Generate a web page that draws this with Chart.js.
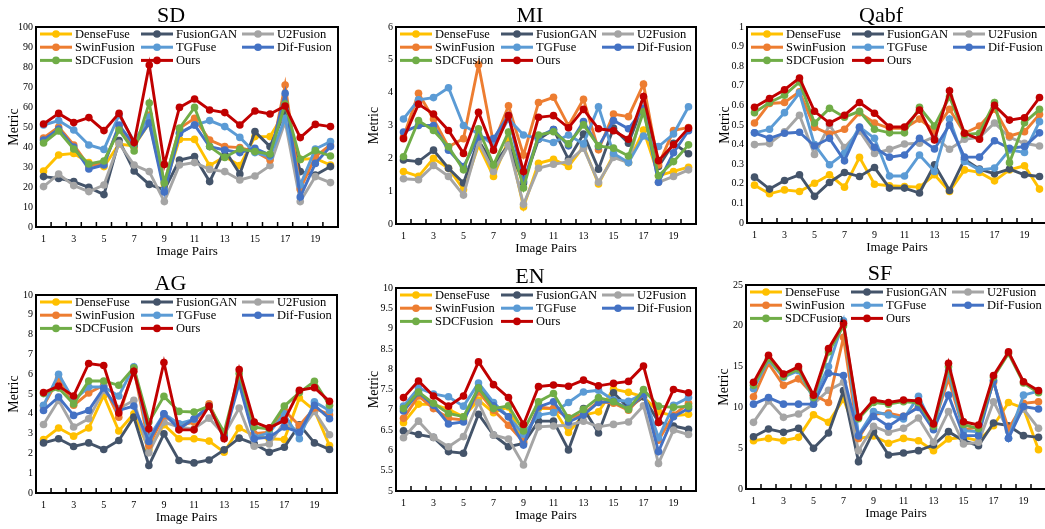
<!DOCTYPE html>
<html>
<head>
<meta charset="utf-8">
<script src="https://cdn.jsdelivr.net/npm/chart.js@4.4.0/dist/chart.umd.min.js"></script>
<style>
  body { margin: 0; background: #fff; width: 1045px; height: 529px; overflow: hidden; position: relative; }
  .panel { position: absolute; }
</style>
</head>
<body>
<div class="panel" style="left:0px;top:0px"><canvas id="cSD" width="342" height="262"></canvas></div>
<div class="panel" style="left:360px;top:0px"><canvas id="cMI" width="340" height="259"></canvas></div>
<div class="panel" style="left:711px;top:0px"><canvas id="cQabf" width="340" height="258"></canvas></div>
<div class="panel" style="left:0px;top:268px"><canvas id="cAG" width="341" height="260"></canvas></div>
<div class="panel" style="left:360px;top:261px"><canvas id="cEN" width="340" height="265"></canvas></div>
<div class="panel" style="left:710px;top:258px"><canvas id="cSF" width="340" height="266"></canvas></div>
<script>
const imagePairs = ['1','2','3','4','5','6','7','8','9','10','11','12','13','14','15','16','17','18','19','20'];
const methods = ['DenseFuse', 'FusionGAN', 'U2Fusion', 'SwinFusion', 'TGFuse', 'Dif-Fusion', 'SDCFusion', 'Ours'];
const colors = ['#FFC000', '#44546A', '#A5A5A5', '#ED7D31', '#5B9BD5', '#4472C4', '#70AD47', '#C00000'];

// SD
const sdDenseFuse = [28, 36, 36.8, 32.2, 30.2, 41.5, 40.5, 52, 20, 43.8, 43.8, 30.7, 35.2, 30.7, 45.2, 45.2, 57.7, 33.8, 34.3, 31];
const sdFusionGAN = [25.2, 24.3, 22.7, 19.8, 16.2, 43.2, 28, 21.3, 18.5, 33.5, 35.2, 22.7, 38.5, 26.5, 47.7, 40.2, 57.7, 27.7, 26, 30.2];
const sdU2Fusion = [20.2, 26.5, 20.7, 17.7, 21, 41.8, 31, 27.7, 12.7, 31, 32.2, 28.8, 27.7, 23.5, 25.5, 30.7, 52.7, 12.7, 25.2, 22.2];
const sdSwinFusion = [44.5, 50, 41, 30.5, 32, 50, 40, 56, 22, 49.3, 54.3, 43.5, 40.2, 39.7, 37.7, 33.5, 71, 19, 35.2, 41];
const sdTGFuse = [51, 53.2, 48.5, 41, 38.8, 56, 42.7, 55, 18.5, 47, 51, 53.2, 50.2, 44.8, 37.2, 35.2, 54.3, 21, 39, 42.7];
const sdDifFusion = [43.5, 49, 40, 29, 31, 51, 41, 52, 17.5, 46.8, 51, 40.2, 38.5, 37.2, 39.3, 36, 66.8, 15, 31.8, 40.2];
const sdSDCFusion = [42, 48, 39, 31.5, 33, 48.5, 38, 62, 22, 49.3, 59.8, 40.2, 34.8, 39, 37.7, 36.5, 61.5, 33.8, 38.2, 35.5];
const sdOurs = [51.5, 56.8, 52.2, 54.7, 48.2, 56.8, 42.2, 81, 31.3, 59.8, 64, 58.5, 57.2, 51, 58, 56.5, 60.5, 44.7, 51.3, 50.2];

// MI
const miDenseFuse = [1.6, 1.45, 2.0, 1.7, 1.05, 2.4, 1.45, 2.55, 0.52, 1.85, 1.97, 1.75, 2.36, 1.22, 2.1, 1.87, 2.86, 1.47, 1.6, 1.73];
const miFusionGAN = [1.95, 1.9, 2.25, 1.7, 1.25, 2.55, 1.8, 2.4, 1.25, 2.58, 2.88, 1.97, 2.74, 1.67, 2.92, 2.46, 3.67, 1.75, 2.46, 2.14];
const miU2Fusion = [1.38, 1.35, 1.78, 1.45, 0.88, 2.5, 1.6, 2.4, 0.6, 1.7, 1.82, 1.9, 2.31, 1.27, 2.03, 1.87, 3.6, 1.27, 1.45, 1.65];
const miSwinFusion = [2.65, 3.98, 3.2, 2.35, 2.6, 4.85, 2.45, 3.6, 2.1, 3.7, 3.86, 2.99, 3.8, 2.26, 3.35, 3.27, 4.26, 1.8, 2.85, 2.94];
const miTGFuse = [3.2, 3.78, 3.85, 4.15, 3.0, 2.75, 2.4, 3.2, 2.71, 2.6, 2.48, 2.71, 2.44, 3.57, 2.15, 1.87, 2.68, 2.36, 2.74, 3.57];
const miDifFusion = [2.8, 3.0, 3.0, 2.25, 1.75, 2.65, 2.6, 3.3, 1.3, 2.66, 2.88, 2.38, 3.12, 2.36, 3.15, 2.9, 3.52, 1.27, 2.17, 2.84];
const miSDCFusion = [2.05, 3.15, 2.85, 2.35, 1.65, 2.9, 1.8, 2.8, 1.1, 2.71, 2.81, 2.44, 3.02, 2.38, 2.31, 2.07, 3.42, 1.47, 1.9, 2.41];
const miOurs = [2.6, 3.65, 3.35, 2.85, 2.15, 3.4, 2.25, 3.3, 1.6, 3.25, 3.3, 2.93, 3.49, 2.9, 2.84, 2.58, 3.88, 1.93, 2.41, 2.92];

// Qabf
const qabfDenseFuse = [0.193, 0.149, 0.169, 0.161, 0.203, 0.246, 0.183, 0.335, 0.198, 0.19, 0.186, 0.183, 0.246, 0.161, 0.271, 0.258, 0.215, 0.271, 0.292, 0.173];
const qabfFusionGAN = [0.234, 0.173, 0.217, 0.246, 0.136, 0.207, 0.258, 0.237, 0.283, 0.178, 0.178, 0.153, 0.297, 0.166, 0.325, 0.275, 0.251, 0.275, 0.246, 0.237];
const qabfU2Fusion = [0.40, 0.405, 0.465, 0.55, 0.35, 0.5, 0.385, 0.47, 0.355, 0.376, 0.403, 0.407, 0.44, 0.376, 0.427, 0.437, 0.51, 0.437, 0.407, 0.393];
const qabfSwinFusion = [0.51, 0.61, 0.615, 0.67, 0.488, 0.454, 0.478, 0.563, 0.51, 0.483, 0.483, 0.53, 0.471, 0.58, 0.458, 0.495, 0.58, 0.444, 0.466, 0.554];
const qabfTGFuse = [0.46, 0.478, 0.563, 0.664, 0.4, 0.297, 0.356, 0.49, 0.432, 0.24, 0.24, 0.347, 0.263, 0.53, 0.314, 0.271, 0.28, 0.373, 0.36, 0.517];
const qabfDifFusion = [0.46, 0.432, 0.458, 0.463, 0.393, 0.432, 0.317, 0.488, 0.386, 0.336, 0.347, 0.432, 0.378, 0.5, 0.336, 0.336, 0.42, 0.381, 0.39, 0.46];
const qabfSDCFusion = [0.563, 0.615, 0.652, 0.72, 0.51, 0.585, 0.54, 0.57, 0.478, 0.46, 0.46, 0.59, 0.495, 0.644, 0.45, 0.458, 0.615, 0.308, 0.512, 0.58];
const qabfOurs = [0.59, 0.635, 0.68, 0.74, 0.57, 0.51, 0.55, 0.615, 0.56, 0.49, 0.49, 0.576, 0.424, 0.675, 0.458, 0.427, 0.6, 0.525, 0.537, 0.64];

// AG
const agDenseFuse = [2.7, 3.28, 2.87, 3.28, 4.93, 3.13, 4.0, 2.2, 3.45, 2.74, 2.74, 2.62, 2.06, 3.28, 2.9, 2.74, 2.7, 4.8, 4.17, 2.4];
const agFusionGAN = [2.53, 2.74, 2.35, 2.53, 2.2, 2.65, 3.83, 1.39, 2.99, 1.64, 1.52, 1.67, 2.18, 2.77, 2.48, 2.06, 2.31, 3.45, 2.53, 2.2];
const agU2Fusion = [3.46, 4.68, 3.33, 3.75, 5.19, 4.26, 4.68, 2.03, 3.58, 3.33, 3.24, 3.78, 2.94, 4.29, 2.36, 2.48, 3.58, 3.07, 4.12, 2.94];
const agSwinFusion = [4.4, 5.78, 4.43, 5.05, 5.44, 3.83, 6.3, 2.4, 3.9, 3.41, 3.58, 4.51, 2.87, 5.81, 2.99, 3.07, 4.17, 3.41, 4.29, 3.95];
const agTGFuse = [4.43, 6.0, 4.68, 5.35, 5.35, 4.9, 6.37, 2.8, 4.0, 3.5, 3.72, 4.39, 2.9, 5.69, 2.82, 3.04, 4.0, 2.74, 4.6, 4.17];
const agDifFusion = [4.17, 4.85, 3.92, 4.17, 5.3, 4.17, 4.39, 2.6, 4.0, 3.24, 3.75, 4.39, 2.82, 5.52, 2.74, 2.82, 3.33, 3.07, 4.43, 3.75];
const agSDCFusion = [5.02, 5.3, 4.5, 5.66, 5.66, 5.44, 6.32, 3.58, 4.88, 4.12, 4.09, 4.39, 3.07, 6.03, 3.33, 3.24, 4.39, 5.07, 5.64, 4.43];
const agOurs = [5.07, 5.4, 4.9, 6.54, 6.44, 4.04, 6.15, 3.24, 6.59, 3.19, 3.19, 4.39, 2.74, 6.23, 3.58, 3.29, 3.67, 5.19, 5.32, 4.63];

// EN
const enDenseFuse = [6.68, 7.14, 7.13, 7.01, 6.83, 7.24, 6.93, 7.07, 6.21, 7.03, 7.03, 6.44, 6.87, 6.95, 7.51, 7.43, 7.32, 6.95, 6.85, 6.89];
const enFusionGAN = [6.48, 6.39, 6.32, 5.97, 5.93, 6.89, 6.38, 6.09, 6.17, 6.72, 6.72, 6.01, 7.03, 6.43, 7.42, 7.05, 7.32, 6.7, 6.6, 6.52];
const enU2Fusion = [6.31, 6.72, 6.32, 6.09, 6.34, 7.18, 6.38, 6.28, 5.64, 6.58, 6.6, 6.62, 6.72, 6.58, 6.64, 6.7, 7.1, 5.68, 6.5, 6.39];
const enSwinFusion = [6.79, 7.34, 7.03, 6.79, 6.75, 7.44, 6.99, 6.62, 6.21, 7.07, 7.03, 6.8, 6.89, 7.21, 7.16, 6.99, 7.38, 6.25, 6.87, 7.16];
const enTGFuse = [7.09, 7.54, 7.39, 7.32, 7.09, 7.66, 7.18, 6.83, 6.4, 6.87, 6.93, 7.18, 7.44, 7.48, 7.24, 7.21, 7.4, 6.31, 7.11, 7.3];
const enDifFusion = [6.97, 7.42, 7.11, 6.65, 6.7, 7.54, 7.1, 6.83, 6.13, 7.07, 7.2, 6.7, 6.87, 7.18, 7.21, 7.03, 7.39, 5.97, 6.83, 7.03];
const enSDCFusion = [7.03, 7.44, 7.16, 6.91, 6.83, 7.54, 7.03, 7.1, 6.48, 7.2, 7.4, 6.79, 7.01, 7.3, 7.2, 7.01, 7.5, 7.09, 7.06, 7.09];
const enOurs = [7.3, 7.71, 7.34, 7.09, 7.34, 8.18, 7.62, 7.3, 6.64, 7.57, 7.61, 7.58, 7.73, 7.59, 7.65, 7.7, 8.08, 6.69, 7.5, 7.42];

// SF
const sfDenseFuse = [5.92, 6.2, 5.92, 6.33, 9.1, 8.17, 11.0, 6.2, 6.5, 5.6, 6.2, 5.92, 4.7, 6.13, 6.33, 5.92, 7.76, 10.6, 9.9, 4.82];
const sfFusionGAN = [6.41, 7.35, 6.94, 7.43, 4.98, 6.86, 12.05, 3.35, 7.03, 4.17, 4.41, 4.7, 5.39, 7.03, 5.92, 5.31, 8.09, 7.76, 6.54, 6.33];
const sfU2Fusion = [8.17, 10.8, 8.78, 9.2, 10.4, 12.1, 13.07, 4.7, 7.68, 6.95, 7.43, 8.7, 5.72, 9.5, 5.51, 5.72, 10.7, 7.15, 9.8, 7.43];
const sfSwinFusion = [11.3, 15.4, 12.7, 13.5, 11.5, 10.6, 18.6, 6.2, 9.2, 9.3, 8.9, 10.1, 7.84, 13.5, 7.27, 7.56, 13.07, 7.35, 10.5, 10.7];
const sfTGFuse = [12.3, 15.8, 13.7, 14.5, 11.1, 15.0, 20.6, 6.6, 9.5, 9.07, 8.58, 11.36, 7.43, 14.5, 7.15, 7.03, 13.3, 6.21, 11.5, 12.0];
const sfDifFusion = [10.4, 11.2, 10.4, 10.4, 10.4, 14.2, 13.9, 6.5, 8.9, 7.68, 8.9, 10.0, 7.27, 11.5, 6.54, 6.54, 13.3, 6.21, 10.1, 9.8];
const sfSDCFusion = [12.7, 16.0, 13.8, 14.7, 11.2, 16.8, 20.0, 8.6, 10.6, 10.4, 10.7, 10.6, 7.7, 15.0, 7.9, 7.4, 13.7, 16.6, 13.0, 11.8];
const sfOurs = [13.07, 16.4, 14.1, 15.0, 11.5, 17.2, 20.3, 8.78, 10.9, 10.6, 10.9, 10.8, 7.97, 15.4, 8.25, 7.84, 13.9, 16.8, 13.15, 12.05];

const panels = [
  { id: 'cSD', title: 'SD', min: 0, max: 100, step: 10,
    series: [sdDenseFuse, sdFusionGAN, sdU2Fusion, sdSwinFusion, sdTGFuse, sdDifFusion, sdSDCFusion, sdOurs] },
  { id: 'cMI', title: 'MI', min: 0, max: 6, step: 1,
    series: [miDenseFuse, miFusionGAN, miU2Fusion, miSwinFusion, miTGFuse, miDifFusion, miSDCFusion, miOurs] },
  { id: 'cQabf', title: 'Qabf', min: 0, max: 1, step: 0.1,
    series: [qabfDenseFuse, qabfFusionGAN, qabfU2Fusion, qabfSwinFusion, qabfTGFuse, qabfDifFusion, qabfSDCFusion, qabfOurs] },
  { id: 'cAG', title: 'AG', min: 0, max: 10, step: 1,
    series: [agDenseFuse, agFusionGAN, agU2Fusion, agSwinFusion, agTGFuse, agDifFusion, agSDCFusion, agOurs] },
  { id: 'cEN', title: 'EN', min: 5, max: 10, step: 0.5,
    series: [enDenseFuse, enFusionGAN, enU2Fusion, enSwinFusion, enTGFuse, enDifFusion, enSDCFusion, enOurs] },
  { id: 'cSF', title: 'SF', min: 0, max: 25, step: 5,
    series: [sfDenseFuse, sfFusionGAN, sfU2Fusion, sfSwinFusion, sfTGFuse, sfDifFusion, sfSDCFusion, sfOurs] }
];

Chart.defaults.font.family = '"Liberation Serif", "Times New Roman", serif';
Chart.defaults.color = '#000';

// box around the plot, small inner ticks on the x axis, legend inside the box
const frameAndLegend = {
  id: 'frameAndLegend',
  afterDatasetsDraw(chart) {
    const { ctx, chartArea: a, scales: { x } } = chart;
    ctx.save();
    ctx.strokeStyle = '#000';
    ctx.lineWidth = 1.5;
    ctx.beginPath();
    for (let k = 0; k < imagePairs.length - 1; k++) {
      const px = (x.getPixelForValue(k) + x.getPixelForValue(k + 1)) / 2;
      ctx.moveTo(px, a.bottom);
      ctx.lineTo(px, a.bottom - 5);
    }
    ctx.stroke();
    ctx.lineWidth = 2;
    ctx.strokeRect(a.left, a.top, a.right - a.left, a.bottom - a.top);

    ctx.font = '12.5px "Liberation Serif"';
    ctx.textBaseline = 'middle';
    ctx.textAlign = 'left';
    chart.data.datasets.forEach((ds, i) => {
      const lx = a.left + 4 + (i % 3) * 101;
      const ly = a.top + 7 + Math.floor(i / 3) * 13.2;
      ctx.strokeStyle = ds.borderColor;
      ctx.lineWidth = 3;
      ctx.beginPath();
      ctx.moveTo(lx, ly);
      ctx.lineTo(lx + 32, ly);
      ctx.stroke();
      ctx.fillStyle = ds.borderColor;
      ctx.beginPath();
      ctx.arc(lx + 16, ly, 3.8, 0, Math.PI * 2);
      ctx.fill();
      ctx.fillStyle = '#000';
      ctx.fillText(ds.label, lx + 35, ly + 0.5);
    });
    ctx.restore();
  }
};

panels.forEach(p => {
  new Chart(document.getElementById(p.id), {
    type: 'line',
    data: {
      labels: imagePairs,
      datasets: p.series.map((values, i) => ({
        label: methods[i],
        data: values,
        borderColor: colors[i],
        backgroundColor: colors[i],
        borderWidth: 2.9,
        pointRadius: 3.8,
        pointBorderWidth: 0,
        tension: 0,
        order: methods.length - i
      }))
    },
    options: {
      responsive: false,
      animation: false,
      devicePixelRatio: 1,
      layout: { padding: 0 },
      plugins: {
        legend: { display: false },
        tooltip: { enabled: false },
        title: {
          display: true,
          text: p.title,
          color: '#000',
          font: { size: 22, weight: 'normal', lineHeight: 1 },
          padding: { top: 5, bottom: 0 }
        }
      },
      scales: {
        x: {
          type: 'category',
          offset: true,
          grid: { display: false, drawTicks: false },
          border: { display: false },
          ticks: {
            autoSkip: false,
            maxRotation: 0,
            padding: 6,
            font: { size: 10 },
            color: '#000',
            callback: (v, i) => (i % 2 === 0 ? imagePairs[i] : '')
          },
          title: {
            display: true,
            text: 'Image Pairs',
            color: '#000',
            font: { size: 13 },
            padding: { top: 0, bottom: 3 }
          },
          afterFit: s => { s.height = 35; }
        },
        y: {
          min: p.min,
          max: p.max,
          grid: { display: false, drawTicks: false },
          border: { display: false },
          ticks: {
            stepSize: p.step,
            padding: 3,
            font: { size: 10 },
            color: '#000',
            callback: v => String(Math.round(v * 100) / 100)
          },
          title: {
            display: true,
            text: 'Metric',
            color: '#000',
            font: { size: 14 },
            padding: { top: 5.5, bottom: 0 }
          },
          afterFit: s => { s.width = 36; }
        }
      }
    },
    plugins: [frameAndLegend]
  });
});
</script>
</body>
</html>
